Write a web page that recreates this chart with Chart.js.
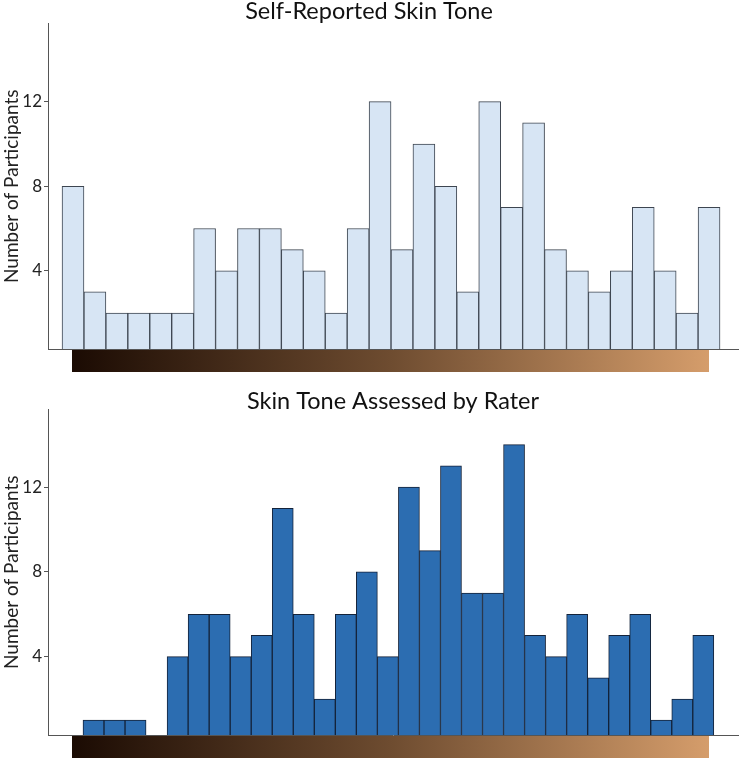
<!DOCTYPE html>
<html>
<head>
<meta charset="utf-8">
<script src="https://cdn.jsdelivr.net/npm/chart.js@4"></script>
<style>
  body { margin: 0; background: #fff; }
  .box { position: relative; width: 740px; }
</style>
</head>
<body>
<div class="box" style="height:378px"><canvas id="selfChart"></canvas></div>
<div class="box" style="height:380px"><canvas id="raterChart"></canvas></div>
<script>
// Skin tone bins (dark -> light)
const bins = [1, 2, 3, 4, 5, 6, 7, 8, 9, 10, 11, 12, 13, 14, 15, 16, 17, 18, 19, 20, 21, 22, 23, 24, 25, 26, 27, 28, 29, 30];
const selfReported = [8, 3, 2, 2, 2, 2, 6, 4, 6, 6, 5, 4, 2, 6, 12, 5, 10, 8, 3, 12, 7, 11, 5, 4, 3, 4, 7, 4, 2, 7];
const raterAssessed = [1, 1, 1, 0, 4, 6, 6, 4, 5, 11, 6, 2, 6, 8, 4, 12, 9, 13, 7, 7, 14, 5, 4, 6, 3, 5, 6, 1, 2, 5];
const yTicks = [4, 8, 12];

const FONT = 'Lato, "Open Sans", sans-serif';

// brown skin tone strip drawn under the x axis
const toneStrip = {
    id: 'toneStrip',
    afterDraw(chart) {
        const a = chart.chartArea;
        const c = chart.ctx;
        const x0 = a.left + 24, x1 = a.left + 661;
        const g = c.createLinearGradient(x0, 0, x1, 0);
        g.addColorStop(0, '#1b0b03');
        g.addColorStop(0.5, '#6e4c30');
        g.addColorStop(1, '#d59d6b');
        c.save();
        c.fillStyle = g;
        c.fillRect(x0, a.bottom + 1, x1 - x0, 22);
        c.restore();
    }
};

function makeChart(id, title, values, fill, border, xMin, xMax, yMax, titlePad, titleFull, padBottom) {
    return new Chart(document.getElementById(id), {
        type: 'bar',
        data: {
            datasets: [{
                data: values.map((v, i) => ({ x: bins[i], y: v })),
                backgroundColor: fill,
                borderColor: border,
                borderWidth: 1,
                barPercentage: 1,
                categoryPercentage: 1
            }]
        },
        options: {
            responsive: true,
            maintainAspectRatio: false,
            animation: false,
            layout: { padding: { left: 0, right: 2, bottom: padBottom, top: 0 } },
            plugins: {
                legend: { display: false },
                tooltip: { enabled: false },
                title: {
                    display: true,
                    text: title,
                    color: '#111',
                    fullSize: titleFull,
                    font: { family: FONT, size: 23.5, weight: 'normal', lineHeight: 1 },
                    padding: titlePad
                }
            },
            scales: {
                x: {
                    type: 'linear',
                    offset: false,
                    min: xMin,
                    max: xMax,
                    ticks: { display: false },
                    grid: { display: false, offset: false },
                    border: { display: true, color: '#555', width: 1 }
                },
                y: {
                    min: 0.3,
                    max: yMax,
                    afterBuildTicks: s => { s.ticks = yTicks.map(v => ({ value: v })); },
                    afterFit: s => { s.width = 48; },
                    ticks: { color: '#222', padding: 2, font: { family: FONT, size: 17 } },
                    grid: { drawOnChartArea: false, drawTicks: true, tickLength: 4, color: '#555' },
                    border: { display: true, color: '#555', width: 1 },
                    title: {
                        display: true,
                        text: 'Number of Participants',
                        color: '#222',
                        padding: 0,
                        font: { family: FONT, size: 19 }
                    }
                }
            }
        },
        plugins: [toneStrip]
    });
}

makeChart('selfChart', 'Self-Reported Skin Tone', selfReported, '#d7e5f4', '#3d4550',
    -0.14, 31.32, 15.7, { top: 0, bottom: 0 }, true, 21);
makeChart('raterChart', 'Skin Tone Assessed by Rater', raterAssessed, '#2c6db1', '#14233a',
    -1.164, 31.65, 15.66, { top: 12, bottom: -4 }, false, 15);
</script>
</body>
</html>
